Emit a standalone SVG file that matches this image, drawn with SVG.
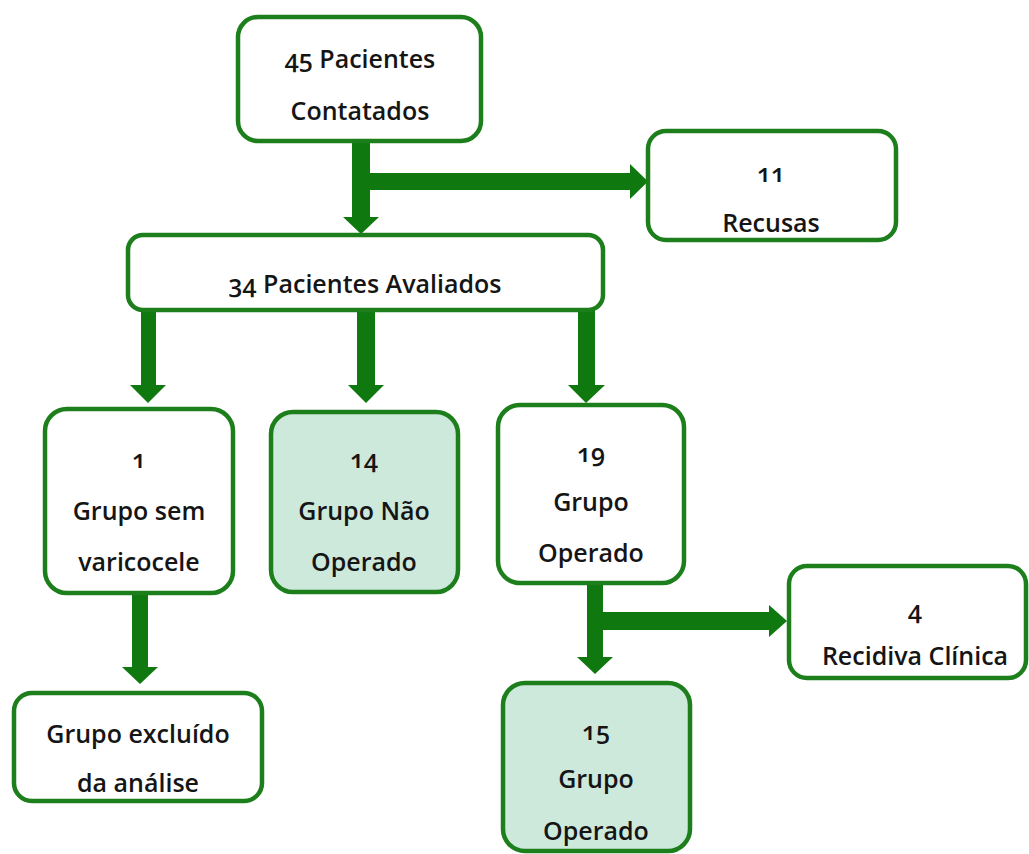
<svg xmlns="http://www.w3.org/2000/svg" width="1029" height="854" viewBox="0 0 1029 854">
<style>
.box{fill:#ffffff;stroke:#1c7f1c;stroke-width:4.5}
.shaded{fill:#cde9dc}
.arr{fill:#0f790f}
text{font-family:"Open Sans","Liberation Sans",sans-serif;font-weight:600;font-size:25px;fill:#151515;text-anchor:middle;font-variant-numeric:oldstyle-nums}
</style>
<rect width="1029" height="854" fill="#ffffff"/>
<g id="connectors">
<polygon class="arr" points="352,141 370,141 370,217 379,217 361,234 343,217 352,217"/>
<polygon class="arr" points="370,173 630,173 630,164 648,181.5 630,199 630,190 370,190"/>
<polygon class="arr" points="141,310 156,310 156,385 166,385 148,403 130,385 141,385"/>
<polygon class="arr" points="357,310 375,310 375,385 384,385 366,403 348,385 357,385"/>
<polygon class="arr" points="578,310 595,310 595,385 605,385 586,403 568,385 578,385"/>
<polygon class="arr" points="587,583 603,583 603,657 613,657 595,674 577,657 587,657"/>
<polygon class="arr" points="603,612 769,612 769,605 787,621 769,637 769,630 603,630"/>
<polygon class="arr" points="132,593 148,593 148,667 158,667 140,684 122,667 132,667"/>
</g>
<g id="n45">
<rect class="box" x="238" y="17" width="243" height="124" rx="20"/>
<text x="360" y="68">45 Pacientes</text>
<text x="360" y="120">Contatados</text>
</g>
<g id="n11">
<rect class="box" x="648" y="131" width="248" height="109" rx="18"/>
<text x="771" y="182">11</text>
<text x="771" y="232">Recusas</text>
</g>
<g id="n34">
<rect class="box" x="128" y="235" width="475" height="75" rx="15"/>
<text x="365" y="293">34 Pacientes Avaliados</text>
</g>
<g id="n1">
<rect class="box" x="45" y="409" width="188" height="184" rx="22"/>
<text x="139" y="468">1</text>
<text x="139" y="520">Grupo sem</text>
<text x="139" y="571">varicocele</text>
</g>
<g id="n14">
<rect class="box shaded" x="271" y="412" width="187" height="180" rx="22"/>
<text x="364" y="468">14</text>
<text x="364" y="520">Grupo Não</text>
<text x="364" y="571">Operado</text>
</g>
<g id="n19">
<rect class="box" x="498" y="405" width="186" height="178" rx="22"/>
<text x="591" y="462">19</text>
<text x="591" y="511">Grupo</text>
<text x="591" y="562">Operado</text>
</g>
<g id="n4">
<rect class="box" x="789" y="566" width="237" height="112" rx="18"/>
<text x="915" y="619">4</text>
<text x="915" y="665">Recidiva Clínica</text>
</g>
<g id="nExcl">
<rect class="box" x="14" y="693" width="248" height="108" rx="18"/>
<text x="138" y="743">Grupo excluído</text>
<text x="138" y="792">da análise</text>
</g>
<g id="n15">
<rect class="box shaded" x="503" y="683" width="187" height="168" rx="22"/>
<text x="596" y="740">15</text>
<text x="596" y="788">Grupo</text>
<text x="596" y="840">Operado</text>
</g>
</svg>
